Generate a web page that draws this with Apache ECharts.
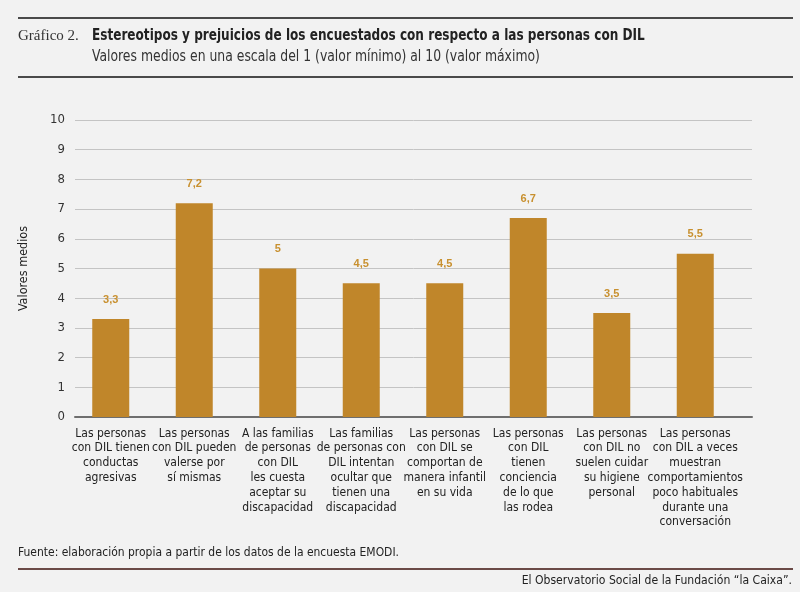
<!DOCTYPE html>
<html>
<head>
<meta charset="utf-8">
<script src="https://cdn.jsdelivr.net/npm/echarts@6/dist/echarts.min.js"></script>
<style>
  html, body { margin: 0; padding: 0; background: #f2f2f2; }
  #chart { width: 800px; height: 592px; }
</style>
</head>
<body>
<div id="chart"></div>
<script>
const categorias = [
    "Las personas\ncon DIL tienen\nconductas\nagresivas",
    "Las personas\ncon DIL pueden\nvalerse por\nsí mismas",
    "A las familias\nde personas\ncon DIL\nles cuesta\naceptar su\ndiscapacidad",
    "Las familias\nde personas con\nDIL intentan\nocultar que\ntienen una\ndiscapacidad",
    "Las personas\ncon DIL se\ncomportan de\nmanera infantil\nen su vida",
    "Las personas\ncon DIL\ntienen\nconciencia\nde lo que\nlas rodea",
    "Las personas\ncon DIL no\nsuelen cuidar\nsu higiene\npersonal",
    "Las personas\ncon DIL a veces\nmuestran\ncomportamientos\npoco habituales\ndurante una\nconversación"
];
const valoresMedios = [3.3, 7.2, 5, 4.5, 4.5, 6.7, 3.5, 5.5];
const ticksY = [0, 10, 1]; // min, max, intervalo

const fuente = "'DejaVu Sans Condensed', sans-serif";
const oro = '#c0862a';

const dom = document.getElementById('chart');
const myChart = echarts.init(dom, null, { renderer: 'canvas' });

const option = {
    backgroundColor: '#f2f2f2',
    textStyle: { fontFamily: fuente },
    grid: [
        // rejilla de fondo (lineas y eje)
        { left: 75, right: 48, top: 120, bottom: 175 },
        // barras
        { left: 69, right: 63, top: 120, bottom: 175 }
    ],
    xAxis: [
        {
            gridIndex: 0, type: 'category', data: [''],
            axisLine: { show: true, lineStyle: { color: '#6e6e6e', width: 2 } },
            axisTick: { show: false }, axisLabel: { show: false }
        },
        {
            gridIndex: 1, type: 'category', data: categorias,
            axisLine: { show: false }, axisTick: { show: false },
            axisLabel: {
                interval: 0, margin: 9, color: '#222', fontSize: 12,
                lineHeight: 14.8, fontFamily: fuente
            }
        }
    ],
    yAxis: [
        {
            gridIndex: 0, type: 'value', min: ticksY[0], max: ticksY[1], interval: ticksY[2],
            name: 'Valores medios', nameLocation: 'middle', nameGap: 45,
            nameTextStyle: { color: '#222', fontSize: 12.5, fontFamily: fuente },
            axisLabel: { color: '#333', fontSize: 13, margin: 10, fontFamily: fuente },
            axisLine: { show: false }, axisTick: { show: false },
            splitLine: { lineStyle: { color: '#c4c4c4', width: 1 } }
        },
        {
            gridIndex: 1, type: 'value', min: ticksY[0], max: ticksY[1], interval: ticksY[2],
            show: false, splitLine: { show: false }
        }
    ],
    series: [
        {
            type: 'bar', xAxisIndex: 1, yAxisIndex: 1,
            data: valoresMedios, barWidth: 37,
            itemStyle: { color: oro },
            label: {
                show: true, position: 'top', distance: 14,
                color: '#c8902f', fontWeight: 'bold', fontSize: 11, fontFamily: 'Liberation Sans, sans-serif',
                formatter: p => String(p.value).replace('.', ',')
            }
        }
    ],
    graphic: [
        { type: 'rect', shape: { x: 18, y: 17, width: 775, height: 2 }, style: { fill: '#4a4a4a' } },
        { type: 'text', x: 18, y: 29, style: { text: 'Gráfico 2.', font: '15px "Liberation Serif", serif', fill: '#333' } },
        { type: 'text', x: 92, y: 29, scaleX: 0.895, style: { text: 'Estereotipos y prejuicios de los encuestados con respecto a las personas con DIL', font: 'bold 15px ' + fuente, fill: '#222' } },
        { type: 'text', x: 92, y: 50, scaleX: 0.92, style: { text: 'Valores medios en una escala del 1 (valor mínimo) al 10 (valor máximo)', font: '15px ' + fuente, fill: '#333' } },
        { type: 'rect', shape: { x: 18, y: 76, width: 775, height: 2 }, style: { fill: '#4a4a4a' } },
        { type: 'text', x: 18, y: 546, scaleX: 0.92, style: { text: 'Fuente: elaboración propia a partir de los datos de la encuesta EMODI.', font: '13px ' + fuente, fill: '#222' } },
        { type: 'rect', shape: { x: 18, y: 568, width: 775, height: 2 }, style: { fill: '#6b4a47' } },
        { type: 'text', x: 792, y: 574, scaleX: 0.93, style: { text: 'El Observatorio Social de la Fundación “la Caixa”.', font: '13px ' + fuente, fill: '#222', align: 'right' } }
    ]
};

option && typeof option === 'object' && myChart.setOption(option, true);
</script>
</body>
</html>
